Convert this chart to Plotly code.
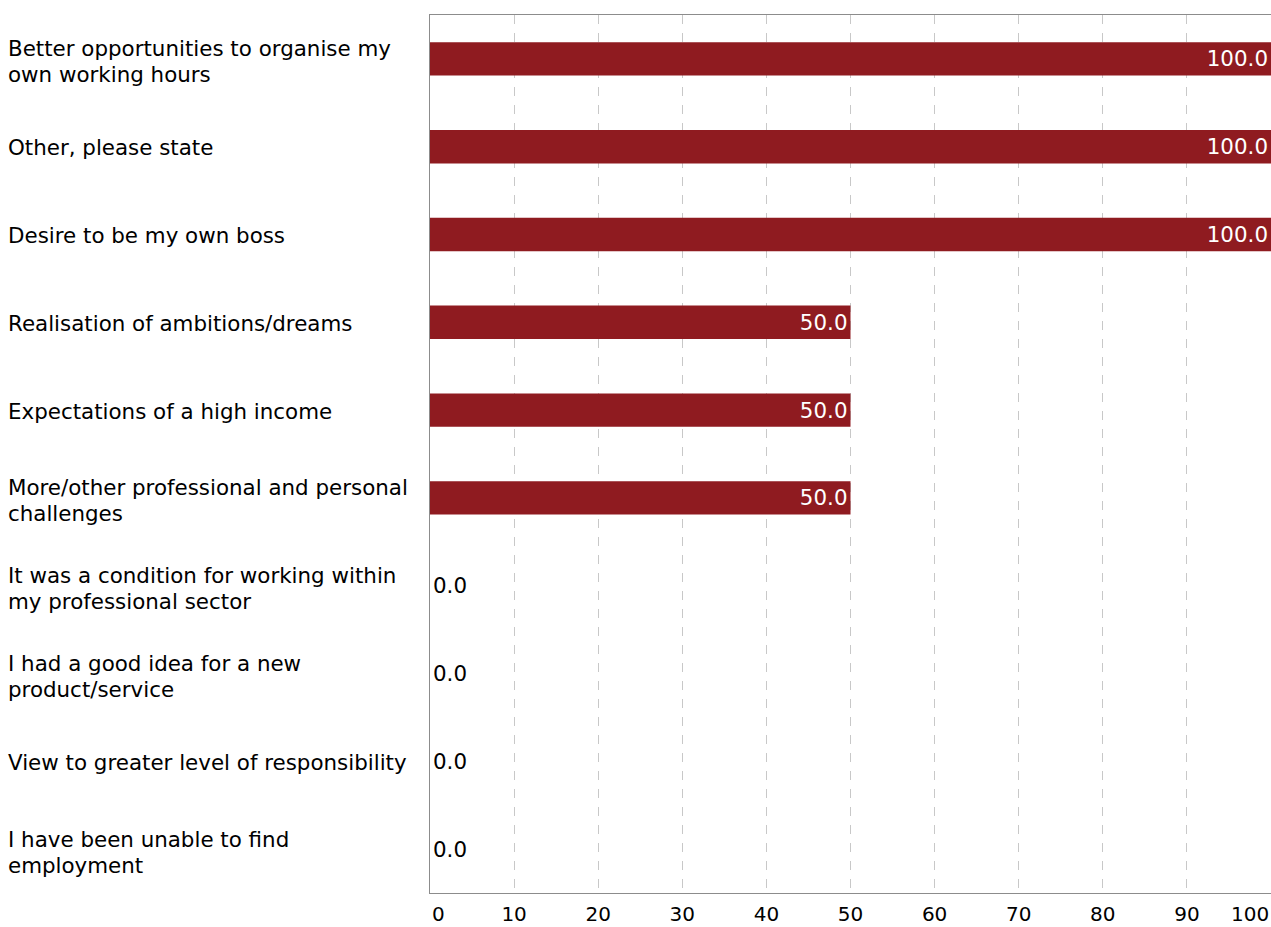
import plotly.graph_objects as go

categories = [
    "Better opportunities to organise my<br>own working hours",
    "Other, please state",
    "Desire to be my own boss",
    "Realisation of ambitions/dreams",
    "Expectations of a high income",
    "More/other professional and personal<br>challenges",
    "It was a condition for working within<br>my professional sector",
    "I had a good idea for a new<br>product/service",
    "View to greater level of responsibility",
    "I have been unable to find<br>employment",
]
values = [100.0, 100.0, 100.0, 50.0, 50.0, 50.0, 0.0, 0.0, 0.0, 0.0]
tick_vals = [0, 10, 20, 30, 40, 50, 60, 70, 80, 90, 100]

FONT = "DejaVu Sans"
FS = 21.4
TFS = 20
BAR = "#8f1b20"
W, H = 1271, 927
ML, MR, MT, MB = 430, 0, 15, 34
plot_w = W - ML - MR

fig = go.Figure()
fig.add_trace(go.Bar(
    x=values, y=categories, orientation="h",
    marker=dict(color=BAR, line=dict(width=0)),
    text=[f"{v:.1f}" for v in values],
    textposition=["inside" if v > 0 else "outside" for v in values],
    insidetextanchor="end",
    insidetextfont=dict(color="white", size=FS, family=FONT),
    outsidetextfont=dict(color="black", size=FS, family=FONT),
    textangle=0,
    constraintext="none",
    cliponaxis=False,
    hoverinfo="skip",
))

annotations = []
label_x = (6 - ML) / plot_w
for cat in categories:
    lines = cat.split("<br>")
    n = len(lines)
    for i, line in enumerate(lines):
        shift = (n - 1) * 13 - i * 26 - 1 - (n - 1) * 2
        annotations.append(dict(
            x=label_x, xref="paper", y=cat, yref="y",
            text=line, showarrow=False, xanchor="left", yanchor="middle",
            yshift=shift, font=dict(family=FONT, size=FS, color="black"),
        ))

# edge tick labels kept inside the window
ticktext = [str(t) for t in tick_vals]
ticktext[0] = ""
ticktext[-1] = ""
annotations.append(dict(x=tick_vals[0], xref="x", y=0, yref="paper", text=str(tick_vals[0]),
                        showarrow=False, xanchor="left", yanchor="middle", yshift=-21,
                        font=dict(family=FONT, size=TFS, color="black")))
annotations.append(dict(x=tick_vals[-1], xref="x", y=0, yref="paper", text=str(tick_vals[-1]),
                        showarrow=False, xanchor="right", yanchor="middle", yshift=-21,
                        font=dict(family=FONT, size=TFS, color="black")))

fig.update_layout(
    width=W, height=H,
    margin=dict(l=ML, r=MR, t=MT, b=MB, autoexpand=False),
    paper_bgcolor="white", plot_bgcolor="white",
    font=dict(family=FONT, size=FS, color="black"),
    bargap=0.62,
    showlegend=False,
    annotations=annotations,
    xaxis=dict(
        range=[0, 100], tickvals=tick_vals, ticktext=ticktext,
        showgrid=True, gridcolor="#c8c8c8", griddash="dash", gridwidth=1,
        showline=True, linecolor="#8c8c8c", linewidth=1, mirror=True,
        zeroline=False, ticks="", fixedrange=True, ticklabelstandoff=3,
        automargin=False,
        tickfont=dict(family=FONT, size=TFS, color="black"),
    ),
    yaxis=dict(
        autorange="reversed", showticklabels=False, automargin=False,
        showgrid=False, showline=True, linecolor="#8c8c8c", linewidth=1,
        mirror=True, zeroline=False, ticks="",
    ),
)

fig.write_html("out.html", config={"displayModeBar": False},
               post_script="document.body.style.margin='0';document.body.style.overflow='hidden';")
